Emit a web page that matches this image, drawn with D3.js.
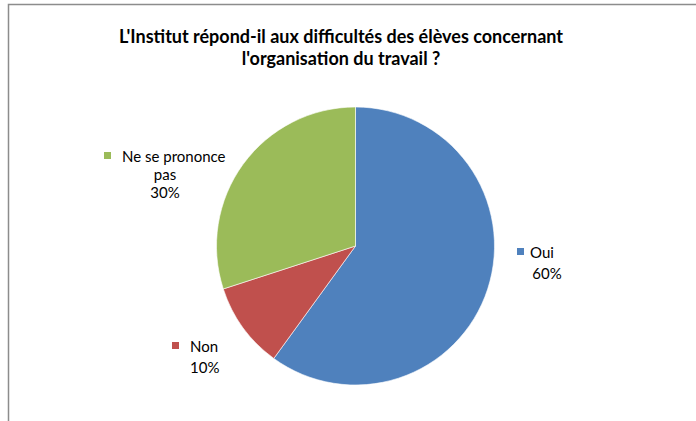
<!DOCTYPE html>
<html>
<head>
<meta charset="utf-8">
<script src="https://cdn.jsdelivr.net/npm/d3@7"></script>
<style>
  body { margin: 0; background: #fff; }
  text { font-family: Lato, "Open Sans", sans-serif; fill: #000; }
</style>
</head>
<body>
<div id="chart"></div>
<script>
const categories = ["Oui", "Non", "Ne se prononce pas"];
const values = [60, 10, 30];
const colors = ["#4F81BD", "#C0504D", "#9BBB59"];
const titleLines = ["L'Institut répond-il aux difficultés des élèves concernant", "l'organisation du travail ?"];

const width = 696, height = 421;
const cx = 355.5, cy = 246, radius = 139;

const svg = d3.select("#chart").append("svg")
    .attr("width", width)
    .attr("height", height);

// frame of the chart area
svg.append("rect")
    .attr("x", 8.5).attr("y", 4.5)
    .attr("width", 700).attr("height", 440)
    .attr("fill", "none")
    .attr("stroke", "#8c8c8c")
    .attr("stroke-width", 1.5);

svg.selectAll(".title")
    .data(titleLines)
    .enter().append("text")
    .attr("class", "title")
    .attr("x", 341)
    .attr("y", (d, i) => 43 + i * 22)
    .attr("text-anchor", "middle")
    .style("font-size", "18px")
    .style("font-weight", "bold")
    .text(d => d);

const pie = d3.pie().sort(null).value(d => d.value);
const arc = d3.arc().innerRadius(0).outerRadius(radius);

const data = categories.map((c, i) => ({ name: c, value: values[i], color: colors[i] }));

const g = svg.append("g").attr("transform", "translate(" + cx + "," + cy + ")");
g.selectAll("path")
    .data(pie(data))
    .enter().append("path")
    .attr("d", arc)
    .attr("fill", d => d.data.color)
    .attr("stroke", "#fff")
    .attr("stroke-width", 0.6);

const total = d3.sum(values);
const fmt = v => Math.round(v / total * 100) + "%";

// labels: square position, text lines [text, x, anchor], first baseline, line step
const labelPos = [
    { sx: 517, sy: 248, lines: [["Oui", 530, "start"], [null, 547, "middle"]], y0: 258, dy: 21 },
    { sx: 172, sy: 342, lines: [["Non", 190, "start"], [null, 190, "start"]], y0: 352, dy: 21 },
    { sx: 104, sy: 152, lines: [["Ne se prononce", 122, "start"], ["pas", 165, "middle"], [null, 165, "middle"]], y0: 162, dy: 18 }
];

data.forEach((d, i) => {
    const p = labelPos[i];
    svg.append("rect")
        .attr("x", p.sx).attr("y", p.sy)
        .attr("width", 7).attr("height", 7)
        .attr("fill", d.color);
    p.lines.forEach((l, j) => {
        svg.append("text")
            .attr("x", l[1])
            .attr("y", p.y0 + j * p.dy)
            .attr("text-anchor", l[2])
            .style("font-size", "15px")
            .text(l[0] === null ? fmt(d.value) : l[0]);
    });
});
</script>
</body>
</html>
